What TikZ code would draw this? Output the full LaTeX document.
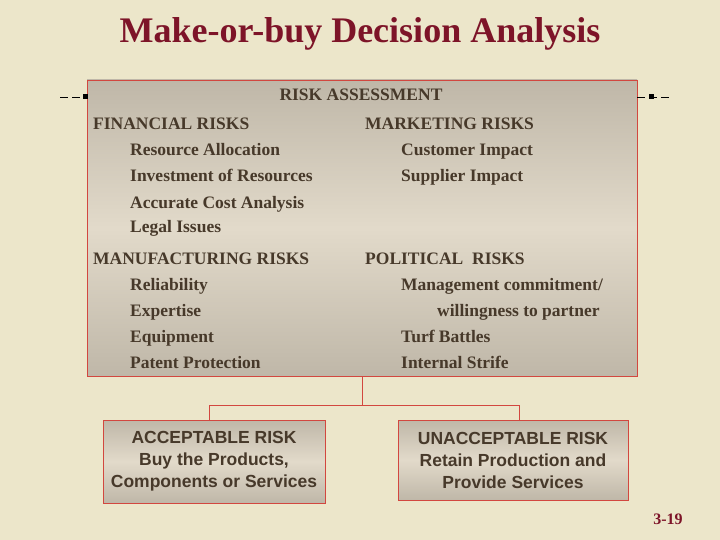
\documentclass[tikz,border=0pt]{standalone}
\usepackage{fontspec}
\setmainfont{Liberation Serif}
\setsansfont{Liberation Sans}
\usetikzlibrary{calc}
\definecolor{paper}{HTML}{ECE6CA}
\definecolor{boxline}{HTML}{D2473F}
\definecolor{boxdark}{HTML}{BFB7A8}
\definecolor{boxlight}{HTML}{E2DACA}
\definecolor{ink}{HTML}{47392A}
\definecolor{titlered}{HTML}{7D1428}

\begin{document}
\begin{tikzpicture}[x=1pt,y=-1pt,
    panel/.style={draw=boxline,line width=.8pt,top color=boxdark,bottom color=boxdark,middle color=boxlight,inner sep=0pt},
    risk/.style={anchor=base west,inner sep=0pt,text=ink,font=\fontsize{17.5}{20}\selectfont\bfseries},
    choice/.style={panel,align=center,text=ink,font=\sffamily\fontsize{17.5}{22}\selectfont\bfseries},
    link/.style={draw=boxline,line width=.8pt}]
  % page
  \fill[paper] (0,0) rectangle (720,540);
  \node[text=titlered,font=\fontsize{36}{40}\selectfont\bfseries] (title) at (360,34) {Make-or-buy Decision Analysis};
  % risk assessment panel
  \node[panel,minimum width=550pt,minimum height=296pt] (main) at (362,228) {};
  \node[risk,anchor=base] (head) at (361,101) {RISK ASSESSMENT};
  % side markers
  \coordinate (ml) at (60,97); \coordinate (mr) at (672,97);
  \draw[dashed,dash pattern=on 8pt off 4pt] (ml) -- (main.west |- ml) (main.east |- mr) -- (mr);
  \node[fill=black,minimum size=5pt,inner sep=0pt] (sl) at (85,97) {};
  \node[fill=black,minimum size=5pt,inner sep=0pt] (sr) at (651,97) {};
  % left column
  \node[risk] (fin) at (93,130) {FINANCIAL RISKS};
  \node[risk] (fin1) at (130,156) {Resource Allocation};
  \node[risk] (fin2) at (130,182) {Investment of Resources};
  \node[risk] (fin3) at (130,208) {Accurate Cost Analysis};
  \node[risk] (fin4) at (130,233) {Legal Issues};
  \node[risk] (man) at (93,264) {MANUFACTURING RISKS};
  \node[risk] (man1) at (130,290) {Reliability};
  \node[risk] (man2) at (130,316) {Expertise};
  \node[risk] (man3) at (130,342) {Equipment};
  \node[risk] (man4) at (130,368) {Patent Protection};
  % right column
  \node[risk] (mkt) at (365,130) {MARKETING RISKS};
  \node[risk] (mkt1) at (401,156) {Customer Impact};
  \node[risk] (mkt2) at (401,182) {Supplier Impact};
  \node[risk] (pol) at (365,264) {POLITICAL\ \ RISKS};
  \node[risk] (pol1) at (401,290) {Management commitment/};
  \node[risk] (pol2) at (437,316) {willingness to partner};
  \node[risk] (pol3) at (401,342) {Turf Battles};
  \node[risk] (pol4) at (401,368) {Internal Strife};
  % outcomes
  \node[choice,minimum width=222pt,minimum height=83pt] (acc) at (214,461.5) {ACCEPTABLE RISK\\Buy the Products,\\Components or Services};
  \node[choice,minimum width=230pt,minimum height=80pt] (unacc) at (513,460) {UNACCEPTABLE RISK\\Retain Production and\\Provide Services};
  \coordinate (split) at (362,405);
  \draw[link] (main.south) -- (split);
  \draw[link] (split) -| ([xshift=-5pt]acc.north);
  \draw[link] (split) -| ([xshift=6pt]unacc.north);
  % page number
  \node[text=titlered,font=\fontsize{16}{18}\selectfont\bfseries] (pno) at (668,519) {3-19};
\end{tikzpicture}
\end{document}
